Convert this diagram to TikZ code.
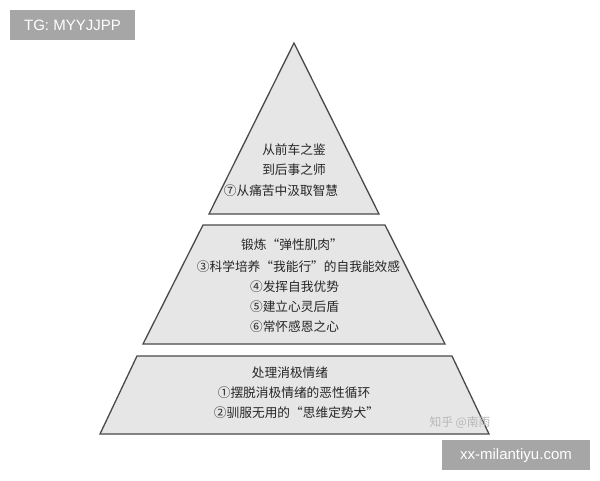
\documentclass[tikz,border=0pt]{standalone}
\usepackage{fontspec}
\setmainfont{Liberation Sans}
\newfontfamily\cjk{Noto Sans CJK SC}
\definecolor{tierfill}{HTML}{E6E6E6}
\definecolor{tierline}{HTML}{4A4A4A}
\definecolor{wmbox}{HTML}{A6A6A6}
\definecolor{wmtext}{HTML}{B8B8B8}
\tikzset{
  tier/.style={fill=tierfill, draw=tierline, line width=1.3pt, line join=miter},
  txt/.style={font=\cjk\fontsize{12.7}{14}\selectfont, text=black!85, inner sep=0pt},
  wm/.style={fill=wmbox, text=white, inner sep=0pt, font=\fontsize{15}{17}\selectfont}
}
\begin{document}
\begin{tikzpicture}[x=1pt,y=-1pt]
\useasboundingbox (0,0) rectangle (600,480);
\fill[white] (0,0) rectangle (600,480);
% tiers
\draw[tier] (294,43) -- (379,214) -- (209,214) -- cycle;
\draw[tier] (203,225) -- (385,225) -- (445,344) -- (143,344) -- cycle;
\draw[tier] (137,356) -- (452,356) -- (489,434) -- (100,434) -- cycle;
% top text
\node[txt] (t1) at (294,150) {从前车之鉴};
\node[txt] (t2) at (294,170) {到后事之师};
\node[txt] (t3) at (281,191) {⑦从痛苦中汲取智慧};
% middle text
\node[txt] (m1) at (292,245) {锻炼“弹性肌肉”};
\node[txt] (m2) at (298.5,267) {③科学培养“我能行”的自我能效感};
\node[txt] (m3) at (294.5,287) {④发挥自我优势};
\node[txt] (m4) at (294.5,307) {⑤建立心灵后盾};
\node[txt] (m5) at (294.5,327) {⑥常怀感恩之心};
% bottom text
\node[txt] (b1) at (290,373) {处理消极情绪};
\node[txt] (b2) at (294,393) {①摆脱消极情绪的恶性循环};
\node[txt] (b3) at (296.5,413) {②驯服无用的“思维定势犬”};
% watermarks
\node[txt, text=wmtext, font=\cjk\fontsize{11.8}{13}\selectfont] (zh) at (460,423) {知乎 @南雨};
\fill[wmbox] (10,10) rectangle (135,40);
\node[text=white, inner sep=0pt, font=\fontsize{15}{17}\selectfont] (tg) at (72.5,25.5) {TG: MYYJJPP};
\fill[wmbox] (442,440) rectangle (590,470);
\node[text=white, inner sep=0pt, font=\fontsize{15}{17}\selectfont] (xx) at (516,455.5) {xx-milantiyu.com};
\end{tikzpicture}
\end{document}
